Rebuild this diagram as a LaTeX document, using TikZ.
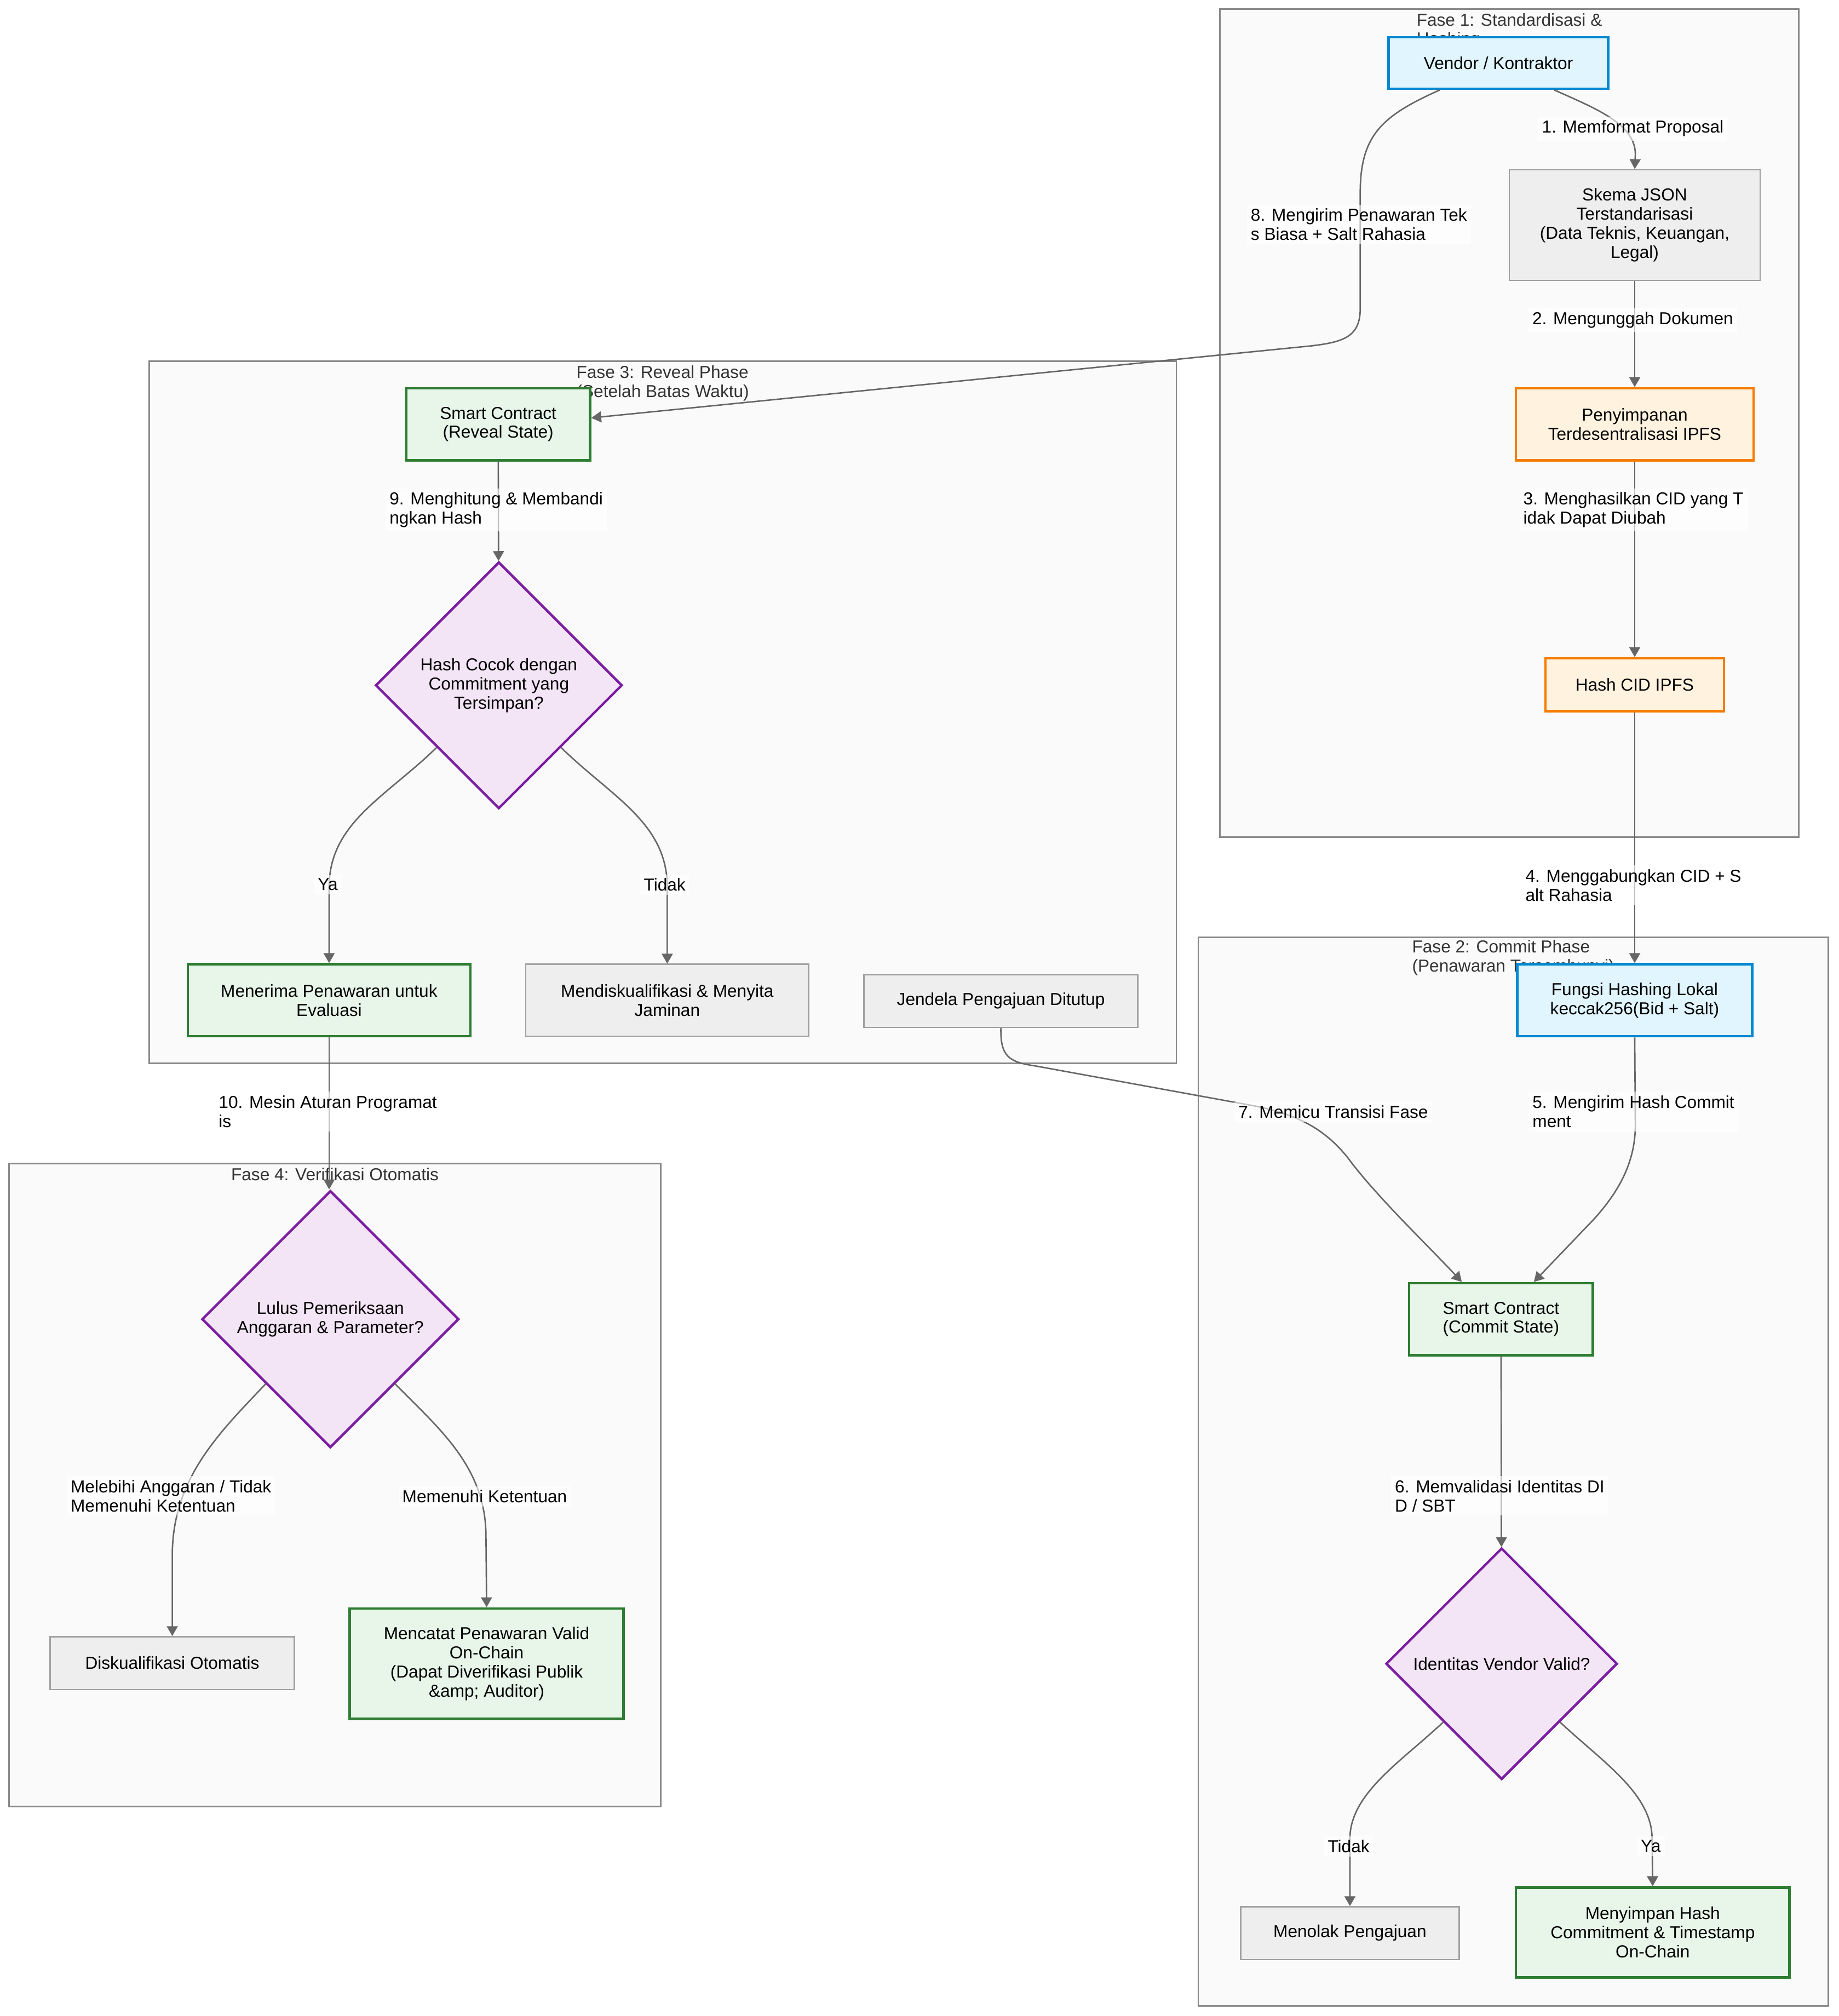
\documentclass[tikz,border=0pt]{standalone}
\usepackage{fontspec}
\setmainfont{Liberation Sans}
\usetikzlibrary{shapes.geometric,arrows.meta}

\definecolor{clfill}{HTML}{FAFAFA}
\definecolor{clline}{HTML}{888888}
\definecolor{cltext}{HTML}{333333}
\definecolor{bfill}{HTML}{E1F5FE}
\definecolor{bline}{HTML}{0288D1}
\definecolor{ofill}{HTML}{FFF3E0}
\definecolor{oline}{HTML}{F57C00}
\definecolor{gfill}{HTML}{E8F5E9}
\definecolor{gline}{HTML}{2E7D32}
\definecolor{xfill}{HTML}{EEEEEE}
\definecolor{xline}{HTML}{A0A0A0}
\definecolor{pfill}{HTML}{F3E5F5}
\definecolor{pline}{HTML}{7B1FA2}
\definecolor{eline}{HTML}{666666}

\begin{document}
\begin{tikzpicture}[x=0.023476cm, y=-0.023476cm,
  every node/.style={font=\fontsize{9}{9.9}\selectfont},
  sz/.style 2 args={minimum width=#1cm, minimum height=#2cm},
  Cl/.style={draw=clline, fill=clfill, line width=0.8pt},
  Ct/.style={anchor=north, align=left, text=cltext, inner sep=0pt},
  Bn/.style={draw=bline, fill=bfill, line width=1.3pt, align=center, inner sep=1pt},
  On/.style={draw=oline, fill=ofill, line width=1.3pt, align=center, inner sep=1pt},
  Gn/.style={draw=gline, fill=gfill, line width=1.3pt, align=center, inner sep=1pt},
  Xn/.style={draw=xline, fill=xfill, line width=0.7pt, align=center, inner sep=1pt},
  Dn/.style={diamond, aspect=1, draw=pline, fill=pfill, line width=1.3pt, align=center, inner sep=1pt},
  El/.style={fill=white, fill opacity=0.6, text opacity=1, align=left, inner sep=2pt},
  Ar/.style={draw=eline, line width=0.75pt, -{Triangle[length=1.8mm,width=2mm]}}]

\useasboundingbox[fill=white] (0,0) rectangle (1430,1568);

\draw[Cl] (949,7) rectangle (1399,651);
\draw[Cl] (116,281) rectangle (915,827);
\draw[Cl] (932,729) rectangle (1422,1560);
\draw[Cl] (7,905) rectangle (514,1405);
\node[Ct] (t1) at (1174,10) {Fase 1: Standardisasi \&\\Hashing};
\node[Ct] (t3) at (515.5,284) {Fase 3: Reveal Phase\\(Setelah Batas Waktu)};
\node[Ct] (t2) at (1177,731) {Fase 2: Commit Phase\\(Penawaran Tersembunyi)};
\node[Ct] (t4) at (260.5,908) {Fase 4: Verifikasi Otomatis};

\node[Bn, sz={4.014}{0.939}] (vendor) at (1165.5,49) {Vendor / Kontraktor};
\node[Xn, sz={4.578}{2.019}] (json) at (1271.5,175) {Skema JSON\\Terstandarisasi\\(Data Teknis, Keuangan,\\Legal)};
\node[On, sz={4.343}{1.315}] (ipfs) at (1271.5,330) {Penyimpanan\\Terdesentralisasi IPFS};
\node[On, sz={3.263}{0.963}] (cid) at (1271.5,532.5) {Hash CID IPFS};

\node[Bn, sz={4.296}{1.315}] (hashfn) at (1271.5,778) {Fungsi Hashing Lokal\\keccak256(Bid + Salt)};
\node[Gn, sz={3.357}{1.315}] (commit) at (1167.5,1026) {Smart Contract\\(Commit State)};
\node[Dn, minimum size=4.226cm] (idok) at (1168,1294) {Identitas Vendor Valid?};
\node[Xn, sz={3.991}{0.963}] (tolak) at (1050,1503.5) {Menolak Pengajuan};
\node[Gn, sz={5.0}{1.643}] (simpan) at (1285.5,1503) {Menyimpan Hash\\Commitment \& Timestamp\\On-Chain};

\node[Gn, sz={3.357}{1.315}] (reveal) at (387.5,330) {Smart Contract\\(Reveal State)};
\node[Dn, minimum size=4.507cm] (cocok) at (388,533) {Hash Cocok dengan\\Commitment yang\\Tersimpan?};
\node[Gn, sz={5.165}{1.315}] (terima) at (256,778) {Menerima Penawaran untuk\\Evaluasi};
\node[Xn, sz={5.165}{1.315}] (sita) at (519,778) {Mendiskualifikasi \& Menyita\\Jaminan};
\node[Xn, sz={5.0}{0.963}] (tutup) at (778.5,778.5) {Jendela Pengajuan Ditutup};

\node[Dn, minimum size=4.695cm] (lulus) at (257,1026) {Lulus Pemeriksaan\\Anggaran \& Parameter?};
\node[Xn, sz={4.46}{0.963}] (otodis) at (134,1293.5) {Diskualifikasi Otomatis};
\node[Gn, sz={5.0}{2.019}] (catat) at (378.5,1294) {Mencatat Penawaran Valid\\On-Chain\\(Dapat Diverifikasi Publik\\\&amp; Auditor)};

\draw[Ar] ([xshift=1.02cm]vendor.south) .. controls (1240,84) and (1272,96) .. (1272,120) -- (json.north);
\draw[Ar] (json) -- (ipfs);
\draw[Ar] (ipfs) -- (cid);
\draw[Ar] (cid) -- (hashfn);
\draw[Ar] (hashfn.south) -- (1272,875) .. controls (1272,905) and (1258,928) .. (1240,948) -- ([xshift=0.6cm]commit.north);
\draw[Ar] (commit) -- (idok);
\draw[Ar] (idok.south west) .. controls (1090,1370) and (1050,1395) .. (1050,1430) -- (tolak.north);
\draw[Ar] (idok.south east) .. controls (1246,1370) and (1285,1395) .. (1285,1430) -- (simpan.north);
\draw[Ar] (tutup.south) .. controls (778,822) and (785,826) .. (805,829) -- (975,860) .. controls (1010,867) and (1030,878) .. (1048,900) .. controls (1070,930) and (1110,968) .. ([xshift=-0.716cm]commit.north);
\draw[Ar] ([xshift=-1.07cm]vendor.south) .. controls (1075,90) and (1058,105) .. (1058,150) -- (1058,240) .. controls (1058,262) and (1045,266) .. (1020,269) -- ([yshift=0.117cm]reveal.east);
\draw[Ar] (reveal) -- (cocok);
\draw[Ar] (cocok.south west) .. controls (300,620) and (256,640) .. (256,690) -- (terima.north);
\draw[Ar] (cocok.south east) .. controls (476,620) and (519,640) .. (519,690) -- (sita.north);
\draw[Ar] (terima.south) -- (terima.south |- lulus.north);
\draw[Ar] (lulus.south west) .. controls (170,1115) and (134,1150) .. (134,1210) -- (otodis.north);
\draw[Ar] (lulus.south east) .. controls (340,1110) and (378,1140) .. (378,1195) -- (catat.north);

\node[El] (l1) at (1270,100) {1. Memformat Proposal};
\node[El] (l2) at (1270,249) {2. Mengunggah Dokumen};
\node[El] (l3) at (1270.5,396.5) {3. Menghasilkan CID yang T\\idak Dapat Diubah};
\node[El] (l4) at (1270.5,688.5) {4. Menggabungkan CID + S\\alt Rahasia};
\node[El] (l5) at (1270.5,864.5) {5. Mengirim Hash Commit\\ment};
\node[El] (l6) at (1166.5,1163.5) {6. Memvalidasi Identitas DI\\D / SBT};
\node[El] (l7) at (1037,865) {7. Memicu Transisi Fase};
\node[El] (l8) at (1057,174.5) {8. Mengirim Penawaran Tek\\s Biasa + Salt Rahasia};
\node[El] (l9) at (386,396.5) {9. Menghitung \& Membandi\\ngkan Hash};
\node[El] (l10) at (255,864.5) {10. Mesin Aturan Programat\\is};
\node[El] (ya1) at (255,688) {Ya};
\node[El] (no1) at (517,688) {Tidak};
\node[El] (no2) at (1049,1436) {Tidak};
\node[El] (ya2) at (1284,1436) {Ya};
\node[El] (lx) at (133,1163.5) {Melebihi Anggaran / Tidak\\Memenuhi Ketentuan};
\node[El] (lk) at (377,1164) {Memenuhi Ketentuan};

\end{tikzpicture}
\end{document}
